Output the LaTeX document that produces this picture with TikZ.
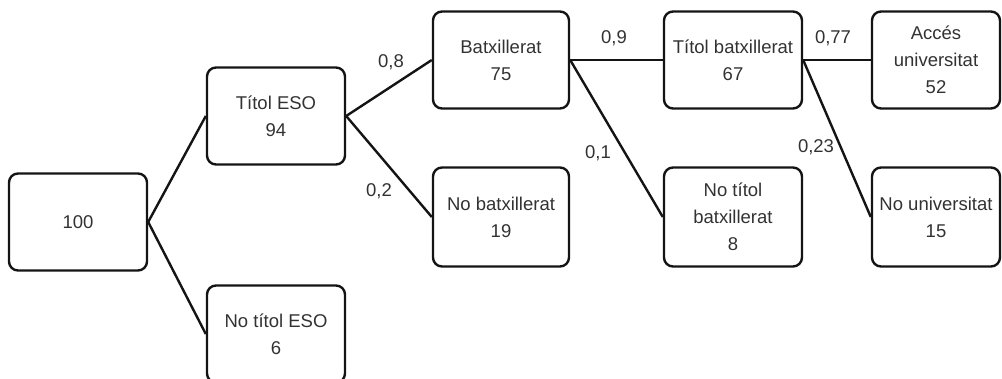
\documentclass[tikz,border=0pt]{standalone}
\usepackage{fontspec}
\setmainfont{Liberation Sans}
\definecolor{txt}{RGB}{50,50,50}
\definecolor{ln}{RGB}{20,20,20}
\begin{document}
\begin{tikzpicture}[x=1pt,y=-1pt,
  box/.style={draw=ln, line width=2.4pt, rounded corners=9pt, align=center,
    text=txt, inner sep=0pt, font=\fontsize{18.5}{27}\selectfont},
  wbox/.style={box, minimum width=138pt, minimum height=97pt},
  nbox/.style={box, minimum width=128pt, minimum height=97pt},
  edge/.style={draw=ln, line width=2.4pt},
  lab/.style={text=txt, inner sep=0pt, font=\fontsize{18.5}{20}\selectfont}]
\useasboundingbox (0,0) rectangle (1002,379);
\node[wbox] (n100) at (78,222) {100};
\node[wbox] (eso) at (276,116) {Títol ESO\\94};
\node[wbox] (noeso) at (276,334) {No títol ESO\\6};
\node[box, minimum width=136pt, minimum height=97pt] (bat) at (501,60) {Batxillerat\\75};
\node[box, minimum width=136pt, minimum height=99pt] (nobat) at (501,217) {No batxillerat\\19};
\node[wbox] (tbat) at (733,60) {Títol batxillerat\\67};
\node[wbox, minimum height=99pt] (ntbat) at (733,217) {No títol\\batxillerat\\8};
\node[nbox] (acc) at (936,60) {Accés\\universitat\\52};
\node[nbox, minimum height=99pt] (nuni) at (936,217) {No universitat\\15};

\draw[edge] (n100.east) -- (eso.west);
\draw[edge] (n100.east) -- (noeso.west);
\draw[edge] (eso.east) -- (bat.west);
\draw[edge] (eso.east) -- (nobat.west);
\draw[edge] (bat.east) -- (tbat.west);
\draw[edge] (bat.east) -- (ntbat.west);
\draw[edge] (tbat.east) -- (acc.west);
\draw[edge] (tbat.east) -- (nuni.west);

\node[lab] (l1) at (391,62) {0,8};
\node[lab] (l2) at (379,191) {0,2};
\node[lab] (l3) at (614,38) {0,9};
\node[lab] (l4) at (598,153) {0,1};
\node[lab] (l5) at (833,38) {0,77};
\node[lab] (l6) at (816,147) {0,23};
\end{tikzpicture}
\end{document}
